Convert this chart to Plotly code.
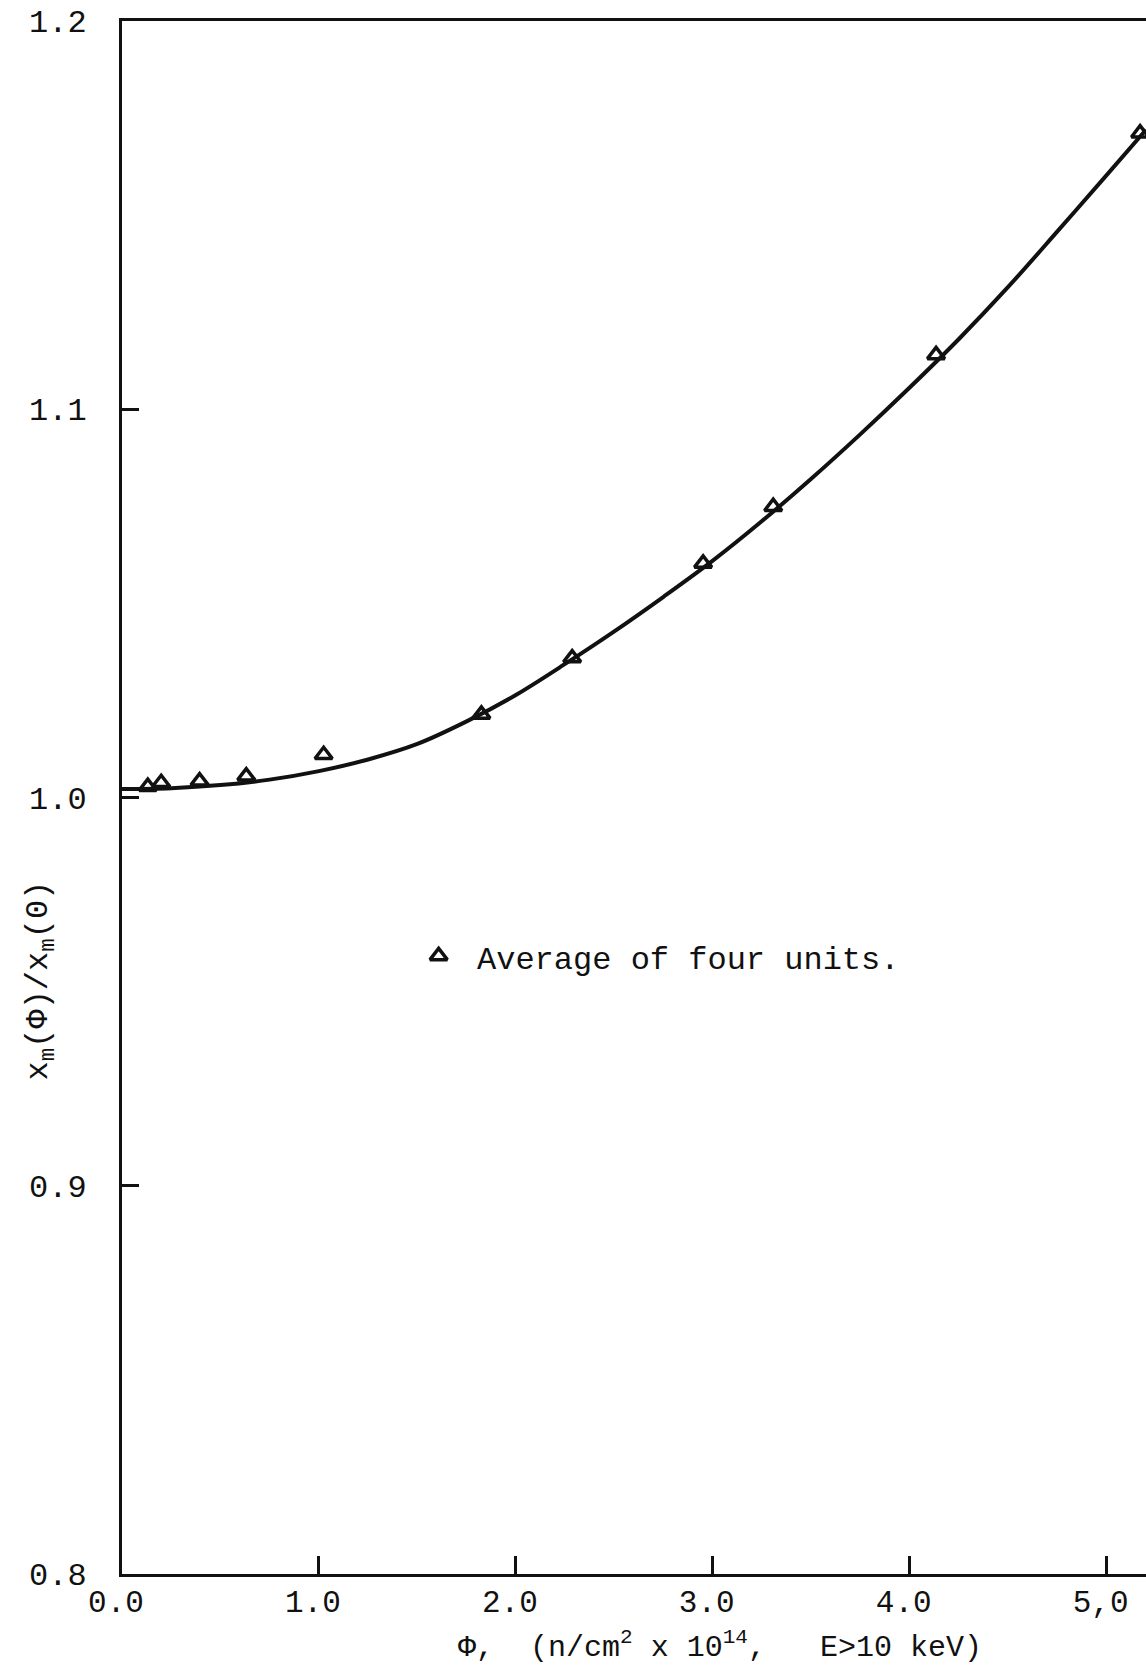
import plotly.graph_objects as go

# Measured points: average of four units
phi_pts = [0.131, 0.199, 0.394, 0.631, 1.024, 1.825, 2.286, 2.951, 3.307, 4.134, 5.170]
ratio_pts = [1.0028, 1.0038, 1.0042, 1.0055, 1.0110, 1.0214, 1.0359, 1.0603, 1.0749, 1.1140, 1.1711]

# Smooth fitted curve
phi_curve = [0.0, 0.25, 0.5, 0.75, 1.0, 1.25, 1.5, 1.75, 2.0, 2.25, 2.5, 2.75,
             3.0, 3.25, 3.5, 3.75, 4.0, 4.25, 4.5, 4.75, 5.0, 5.2]
ratio_curve = [1.0022, 1.0024, 1.0032, 1.0046, 1.0068, 1.0098, 1.0138, 1.0196,
               1.0264, 1.0344, 1.0428, 1.0517, 1.0610, 1.0712, 1.0821, 1.0936,
               1.1056, 1.1181, 1.1315, 1.1458, 1.1603, 1.1720]

# Axis ticks
x_tickvals = [0, 1, 2, 3, 4, 5]
x_ticktext = ["0.0", "1.0", "2.0", "3.0", "4.0", "5,0"]
y_tickvals = [0.8, 0.9, 1.0, 1.1, 1.2]
y_ticktext = ["0.8", "0.9", "1.0", "1.1", "1.2"]

# Key entry
key_phi = [1.608]
key_ratio = [0.9592]
key_label = "Average of four units."

FONT = "Courier New, Liberation Mono, monospace"
INK = "#111111"

fig = go.Figure()

fig.add_trace(go.Scatter(
    x=phi_curve, y=ratio_curve, mode="lines",
    line=dict(color=INK, width=4, shape="spline", smoothing=1.0),
    showlegend=False, hoverinfo="skip",
))

fig.add_trace(go.Scatter(
    x=phi_pts, y=ratio_pts, mode="markers",
    marker=dict(symbol="triangle-up-open", size=15, color=INK,
                line=dict(color=INK, width=3.5)),
    showlegend=False,
))

fig.add_trace(go.Scatter(
    x=key_phi, y=key_ratio, mode="markers",
    marker=dict(symbol="triangle-up-open", size=15, color=INK,
                line=dict(color=INK, width=3.5)),
    showlegend=False, hoverinfo="skip",
))

fig.add_annotation(
    x=key_phi[0], y=key_ratio[0], xref="x", yref="y",
    text=key_label, showarrow=False, xanchor="left", yanchor="middle",
    xshift=36, yshift=-5,
    font=dict(family=FONT, size=32, color=INK),
)

# x-axis caption
fig.add_annotation(
    x=0.584, y=-0.046, xref="paper", yref="paper",
    text="Φ,  (n/cm<sup>2</sup> x 10<sup>14</sup>,\u00a0\u00a0 E>10 keV)",
    showarrow=False, xanchor="center", yanchor="middle",
    font=dict(family=FONT, size=30, color=INK),
)

# y-axis caption
fig.add_annotation(
    x=-0.0787, y=0.3825, xref="paper", yref="paper",
    text="x<sub>m</sub>(Φ)/x<sub>m</sub>(0)",
    textangle=-90, showarrow=False, xanchor="center", yanchor="middle",
    font=dict(family=FONT, size=32, color=INK),
)

fig.update_layout(
    width=1146, height=1667,
    margin=dict(l=122, r=0, t=21, b=93),
    paper_bgcolor="white", plot_bgcolor="white",
    font=dict(family=FONT, size=31, color=INK),
    showlegend=False,
)

fig.update_xaxes(
    range=[0, 5.2], tickvals=x_tickvals, ticktext=x_ticktext,
    showline=True, linecolor=INK, linewidth=3, mirror=True,
    ticks="inside", ticklen=18, tickwidth=3, tickcolor=INK,
    showgrid=False, zeroline=False,
    ticklabelstandoff=-2, ticklabelshift=-6,
    tickfont=dict(family=FONT, size=31, color=INK),
)

fig.update_yaxes(
    range=[0.8, 1.2], tickvals=y_tickvals, ticktext=y_ticktext,
    showline=True, linecolor=INK, linewidth=3,
    ticks="inside", ticklen=17, tickwidth=3, tickcolor=INK,
    showgrid=False, zeroline=False,
    ticklabelstandoff=26,
    tickfont=dict(family=FONT, size=32, color=INK),
)

fig.write_html("out.html")
